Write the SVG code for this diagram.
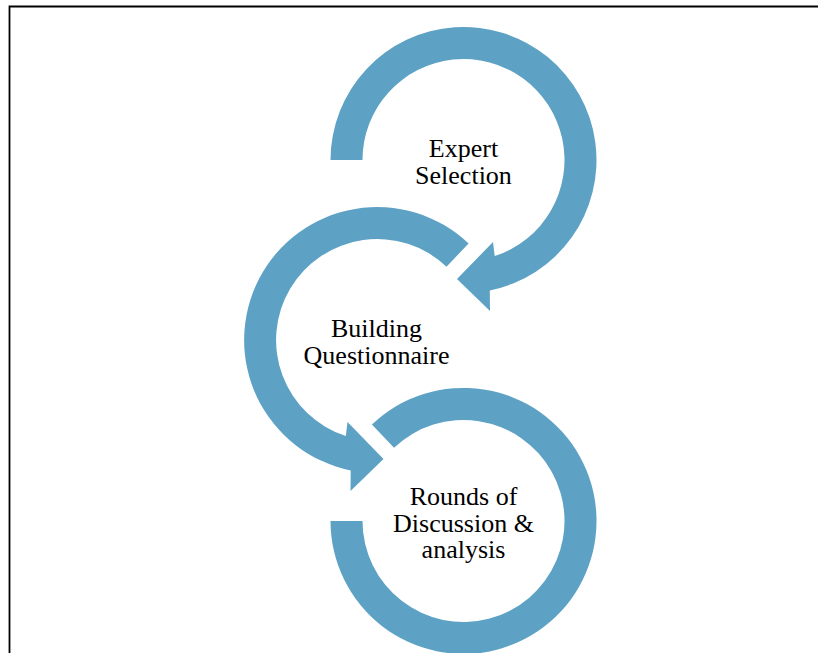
<svg xmlns="http://www.w3.org/2000/svg" width="818" height="653" viewBox="0 0 818 653">
  <style>
    .ring { fill: #5DA2C4; stroke: none; }
    .label { font-family: "Liberation Serif", "Times New Roman", serif; font-size: 26px; fill: #000; text-anchor: middle; }
    .frame { fill: none; stroke: #000; stroke-width: 1.8; }
  </style>
  <rect width="818" height="653" fill="#fff"/>
  <path class="frame" d="M9.5,653 V6.5 H818"/>
  <g id="connectors">
    <path id="arrow-expert" class="ring" d="M330.5,160 A133,133 0 1 1 489.8,290.4 L490,311 L457,279 L493,242 L494.7,256.1 A101,101 0 1 0 362.5,160 Z"/>
    <path id="arrow-building" class="ring" d="M468.6,243.5 A133,133 0 1 0 350.7,470.4 L350.5,491 L383.5,459 L347.5,422 L345.8,436.1 A101,101 0 1 1 446.5,266.7 Z"/>
    <path id="arrow-rounds" class="ring" d="M371.9,424.5 A133,133 0 1 1 330.5,521 L362.5,521 A101,101 0 1 0 394,447.7 Z"/>
  </g>
  <g id="node-expert">
    <text class="label" x="463.5" y="157.3">Expert</text>
    <text class="label" x="463.5" y="184">Selection</text>
  </g>
  <g id="node-building">
    <text class="label" x="376.5" y="336.7">Building</text>
    <text class="label" x="376.5" y="364">Questionnaire</text>
  </g>
  <g id="node-rounds">
    <text class="label" x="463.5" y="505">Rounds of</text>
    <text class="label" x="463.5" y="531.7">Discussion &amp;</text>
    <text class="label" x="463.5" y="558.3">analysis</text>
  </g>
</svg>
